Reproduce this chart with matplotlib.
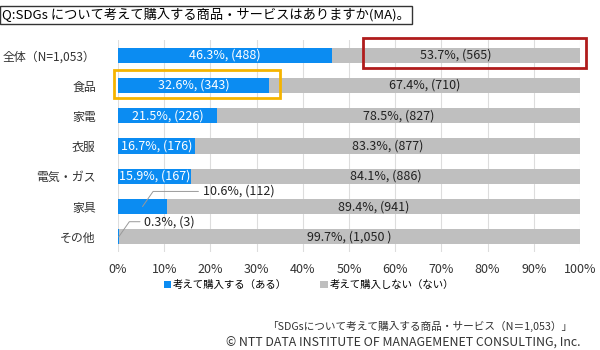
import matplotlib
matplotlib.use("Agg")
import matplotlib.pyplot as plt
from matplotlib.patches import Rectangle

plt.rcParams['font.family'] = ['Noto Sans CJK JP', 'DejaVu Sans']

# データ
categories = ['全体（N=1,053）', '食品', '家電', '衣服', '電気・ガス', '家具', 'その他']
yes_pct = [46.3, 32.6, 21.5, 16.7, 15.9, 10.6, 0.3]
yes_n = ['488', '343', '226', '176', '167', '112', '3']
no_pct = [53.7, 67.4, 78.5, 83.3, 84.1, 89.4, 99.7]
no_n = ['565', '710', '827', '877', '886', '941', '1,050 ']
legend_labels = ['考えて購入する（ある）', '考えて購入しない（ない）']

blue = '#0b8cf2'
gray = '#bfbfbf'

fig = plt.figure(figsize=(6, 3.5), dpi=100)
ax = fig.add_axes([0.1967, 0.28, 0.77, 0.6057])

y = list(range(len(categories)))
b1 = ax.barh(y, yes_pct, height=0.5, color=blue, label=legend_labels[0])
b2 = ax.barh(y, no_pct, left=yes_pct, height=0.5, color=gray, label=legend_labels[1])

ax.set_xlim(0, 100)
ax.set_ylim(len(categories) - 0.5, -0.5)
ax.set_xticks(range(0, 101, 10))
ax.set_xticklabels([f'{v}%' for v in range(0, 101, 10)], fontsize=9, color='#333333')
ax.set_yticks(y)
ax.set_yticklabels(categories, fontsize=8.6, color='#333333')
ax.tick_params(length=0)
ax.tick_params(axis='y', pad=16)
ax.tick_params(axis='x', pad=8)
for s in ax.spines.values():
    s.set_visible(False)
ax.grid(axis='x', color='#dddddd', linewidth=0.8)
ax.set_axisbelow(True)

# ラベル
for i in y:
    if yes_pct[i] > 12:
        ax.text(yes_pct[i] / 2, i, f'{yes_pct[i]}%, ({yes_n[i]})', ha='center', va='center',
                color='white', fontsize=9)
    ax.text(yes_pct[i] + no_pct[i] / 2, i, f'{no_pct[i]}%, ({no_n[i]})', ha='center', va='center',
            color='#222222', fontsize=9)

# 小さい値は引き出し線
for i, (dx, dy) in zip([5, 6], [(13, -0.5), (5.5, -0.5)]):
    ax.annotate(f'{yes_pct[i]}%, ({yes_n[i]})', xy=(yes_pct[i] / 2, i),
                xytext=(yes_pct[i] / 2 + dx, i + dy), fontsize=9, color='#222222',
                va='center', ha='left',
                arrowprops=dict(arrowstyle='-', color='#999999', lw=0.7,
                                connectionstyle='angle,angleA=0,angleB=55,rad=0',
                                shrinkA=1, shrinkB=0))

# 強調枠
ax.add_patch(Rectangle((yes_pct[0] + 6.8, -0.56), 48.3, 0.99, fill=False,
                       edgecolor='#b01c1c', lw=2, clip_on=False))
ax.add_patch(Rectangle((-0.9, 0.5), yes_pct[1] + 3.3, 0.93, fill=False,
                       edgecolor='#f5b400', lw=2, clip_on=False))

fig.legend(handles=[b1, b2], labels=legend_labels, loc='center', bbox_to_anchor=(0.515, 0.185),
           ncol=2, frameon=False, fontsize=7.5, handlelength=0.7, handleheight=0.7,
           handletextpad=0.2, columnspacing=3.2)

fig.text(0.004, 0.978, 'Q:SDGs について考えて購入する商品・サービスはありますか(MA)。', fontsize=9.5,
         ha='left', va='top', color='black',
         bbox=dict(boxstyle='square,pad=0.15', facecolor='white', edgecolor='#333333', lw=1))

fig.text(0.953, 0.066, '「SDGsについて考えて購入する商品・サービス（N＝1,053）」', ha='right', va='center',
         fontsize=7.7, color='#333333')
fig.text(0.968, 0.02, '© NTT DATA INSTITUTE OF MANAGEMENET CONSULTING, Inc.', ha='right', va='center',
         fontsize=8.9, color='#333333')

fig.savefig('out.png', dpi=100)
